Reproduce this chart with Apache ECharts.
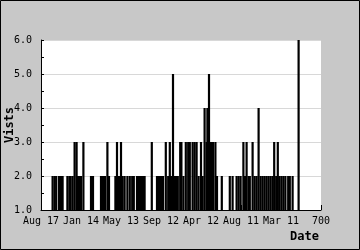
<!DOCTYPE html>
<html>
<head>
<meta charset="utf-8">
<script src="https://cdn.jsdelivr.net/npm/echarts@6/dist/echarts.min.js"></script>
<style>
html,body{margin:0;padding:0;background:#c8c8c8;}
#c{width:360px;height:250px;}
</style>
</head>
<body>
<div id="c"></div>
<script>
// x positions (days) and visits per day
var days = [29,34,38,45,50,54,66,71,74,79,84,89,92,95,100,106,125,130,150,155,160,166,170,
  186,190,195,200,204,209,216,222,228,232,240,245,250,255,259,277,290,295,300,305,312,318,322,325,330,335,
  338,342,348,351,356,362,368,372,379,384,389,394,400,404,409,414,416,420,425,430,436,440,452,
  472,479,489,494,499,506,510,514,519,522,529,534,539,544,549,554,559,564,569,574,579,583,588,592,596,601,606,611,618,622,629,644];
var visits = [2,2,2,2,2,2,2,2,2,2,3,3,2,2,2,3,2,2,2,2,2,3,2,
  2,3,2,3,2,2,2,2,2,2,2,2,2,2,2,3,2,2,2,2,3,2,3,2,5,2,
  2,2,3,3,2,3,3,3,3,3,3,2,3,2,4,3,4,5,3,3,3,2,2,
  2,2,2,2,2,3,2,3,2,2,3,2,2,4,2,2,2,2,2,2,2,3,2,3,2,2,2,2,2,2,2,6];
var xTickLabels = ['Aug 17','Jan 14','May 13','Sep 12','Apr 12','Aug 11','Mar 11','700'];
var yTicks = [1,2,3,4,5,6];
var yTitle = 'Vists';
var xTitle = 'Date';

var chart = echarts.init(document.getElementById('c'), null, {renderer:'canvas'});
var data = days.map(function(d,i){return [d, visits[i]];});
var mono = 'DejaVu Sans Mono';
chart.setOption({
  backgroundColor:'#c8c8c8',
  animation:false,
  grid:{left:41,top:40,right:39,bottom:40,show:true,backgroundColor:'#ffffff',borderWidth:0,
    containLabel:false,outerBoundsMode:'none'},
  xAxis:{
    type:'value',min:0,max:700,interval:100,
    name:xTitle,nameLocation:'end',nameGap:-2,
    nameTextStyle:{fontFamily:mono,fontWeight:'bold',fontSize:12,color:'#000',align:'right',verticalAlign:'top',padding:[21,0,0,0]},
    axisLine:{show:true,onZero:false,lineStyle:{color:'#000',width:1}},
    axisTick:{show:true,inside:true,length:5,lineStyle:{color:'#000'}},
    axisLabel:{fontFamily:mono,fontSize:10,color:'#000',margin:6,hideOverlap:false,
      formatter:function(v){return xTickLabels[Math.round(v/100)];}},
    splitLine:{show:false}
  },
  yAxis:{
    type:'value',min:yTicks[0],max:yTicks[yTicks.length-1],interval:1,
    axisLine:{show:true,lineStyle:{color:'#000',width:1}},
    axisTick:{show:true,inside:true,length:3,lineStyle:{color:'#000'}},
    minorTick:{show:true,splitNumber:2,length:3,lineStyle:{color:'#000'}},
    axisLabel:{fontFamily:mono,fontSize:10,color:'#000',margin:9,
      formatter:function(v){return v.toFixed(1);}},
    splitLine:{show:true,lineStyle:{color:'#d8d8d8',width:1}}
  },
  series:[{
    type:'bar',data:data,barWidth:2.2,
    itemStyle:{color:'#000000'},
    clip:true
  }],
  graphic:[
    {type:'rect',shape:{x:0.5,y:0.5,width:359,height:249},style:{fill:null,stroke:'#000',lineWidth:1},silent:true},
    {type:'text',x:9.5,y:125,rotation:Math.PI/2,silent:true,
      style:{text:yTitle,fill:'#000',font:'bold 12px "DejaVu Sans Mono"',align:'center',verticalAlign:'middle'}}
  ]
});
</script>
</body>
</html>
